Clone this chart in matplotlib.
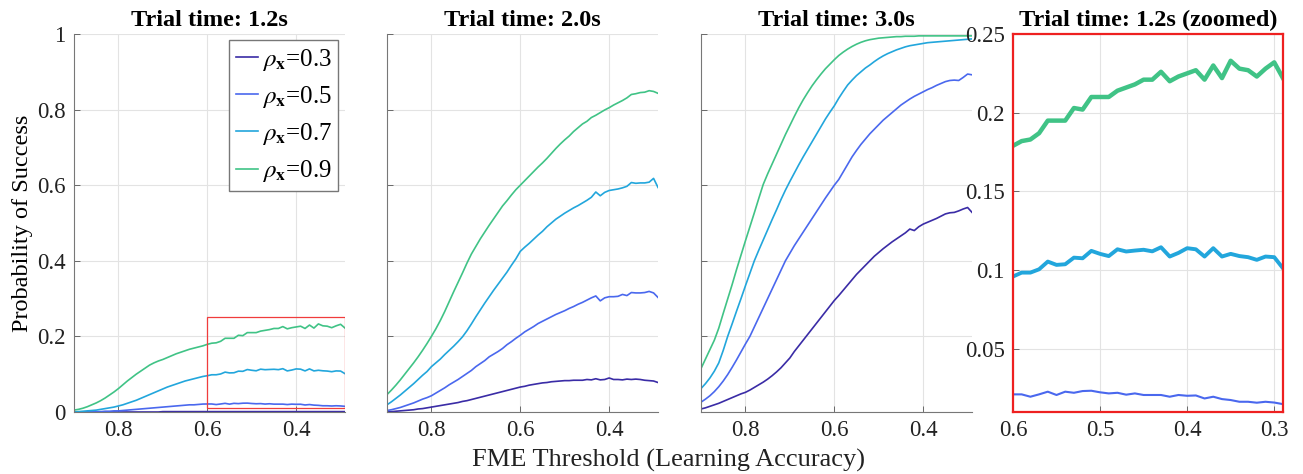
import numpy as np
import matplotlib
matplotlib.use("Agg")
import matplotlib.pyplot as plt
from matplotlib.patches import Rectangle
from matplotlib.ticker import FuncFormatter

plt.rcParams['font.family'] = ['Liberation Serif', 'DejaVu Serif']
plt.rcParams['mathtext.fontset'] = 'stix'

# FME threshold grid, 0.90 down to 0.29
thresholds = np.round(np.arange(90, 28, -1) / 100, 2)

rho_labels = [r'$\rho_{\mathbf{x}}$=0.3', r'$\rho_{\mathbf{x}}$=0.5',
              r'$\rho_{\mathbf{x}}$=0.7', r'$\rho_{\mathbf{x}}$=0.9']
colors = ['#3a2ca6', '#4a68ee', '#22a6dc', '#40c386']
titles = ['Trial time: 1.2s', 'Trial time: 2.0s', 'Trial time: 3.0s']

# ---- trial time 1.2 s ----
t12_rho03 = [0.0, 0.0, 0.0, 0.0, 0.0, 0.0, 0.0, 0.0, 0.0, 0.0,
             0.0, 0.0, 0.0, 0.0, 0.0, 0.0, 0.0, 0.0, 0.0, 0.0,
             0.001, 0.001, 0.001, 0.001, 0.001, 0.001, 0.001, 0.001, 0.001, 0.001,
             0.001, 0.001, 0.001, 0.001, 0.001, 0.001, 0.001, 0.001, 0.001, 0.001,
             0.001, 0.001, 0.001, 0.001, 0.001, 0.001, 0.001, 0.001, 0.001, 0.001,
             0.001, 0.001, 0.001, 0.001, 0.001, 0.001, 0.001, 0.001, 0.001, 0.001,
             0.001, 0.001]
t12_rho05 = [0.0, 0.0, 0.0, 0.0, 0.001, 0.001, 0.001, 0.002, 0.002, 0.003,
             0.003, 0.004, 0.005, 0.006, 0.007, 0.008, 0.009, 0.01, 0.011, 0.012,
             0.013, 0.014, 0.015, 0.016, 0.017, 0.018, 0.019, 0.019, 0.02, 0.021,
             0.0212, 0.0212, 0.0197, 0.0212, 0.0229, 0.0208, 0.0229, 0.0222, 0.0233, 0.0235,
             0.0225, 0.0218, 0.0222, 0.021, 0.0218, 0.0208, 0.0208, 0.0208, 0.0197, 0.0208,
             0.0203, 0.0205, 0.0186, 0.0197, 0.0182, 0.0176, 0.0165, 0.0165, 0.0159, 0.0165,
             0.016, 0.015]
t12_rho07 = [0.0, 0.001, 0.002, 0.003, 0.004, 0.005, 0.007, 0.009, 0.011, 0.013,
             0.016, 0.019, 0.023, 0.027, 0.031, 0.036, 0.041, 0.046, 0.051, 0.056,
             0.061, 0.066, 0.07, 0.074, 0.078, 0.082, 0.085, 0.088, 0.091, 0.094,
             0.096, 0.0985, 0.0985, 0.1006, 0.1055, 0.1034, 0.1038, 0.108, 0.1076, 0.1123,
             0.1104, 0.109, 0.1133, 0.1119, 0.1125, 0.113, 0.112, 0.1146, 0.1087, 0.111,
             0.114, 0.1133, 0.1087, 0.114, 0.1087, 0.1104, 0.109, 0.1083, 0.1066, 0.1087,
             0.1083, 0.1013]
t12_rho09 = [0.005, 0.007, 0.01, 0.014, 0.019, 0.024, 0.03, 0.037, 0.045, 0.053,
             0.062, 0.072, 0.082, 0.091, 0.1, 0.108, 0.116, 0.124, 0.13, 0.135,
             0.139, 0.144, 0.149, 0.154, 0.158, 0.162, 0.166, 0.169, 0.172, 0.175,
             0.179, 0.182, 0.183, 0.187, 0.195, 0.195, 0.195, 0.203, 0.202, 0.21,
             0.21, 0.21, 0.214, 0.216, 0.218, 0.221, 0.221, 0.226, 0.22, 0.223,
             0.225, 0.227, 0.221, 0.23, 0.222, 0.233, 0.228, 0.227, 0.223, 0.228,
             0.232, 0.222]

# ---- trial time 2.0 s ----
t20_rho03 = [0.0, 0.001, 0.002, 0.003, 0.004, 0.005, 0.006, 0.008, 0.009, 0.011,
             0.013, 0.015, 0.017, 0.019, 0.021, 0.023, 0.025, 0.028, 0.03, 0.033,
             0.036, 0.039, 0.042, 0.045, 0.048, 0.051, 0.054, 0.057, 0.06, 0.063,
             0.066, 0.068, 0.071, 0.073, 0.075, 0.077, 0.078, 0.08, 0.081, 0.082,
             0.083, 0.083, 0.084, 0.084, 0.084, 0.086, 0.085, 0.088, 0.085, 0.086,
             0.09, 0.086, 0.086, 0.085, 0.087, 0.086, 0.087, 0.086, 0.084, 0.083,
             0.082, 0.078]
t20_rho05 = [0.004, 0.006, 0.009, 0.012, 0.016, 0.02, 0.024, 0.029, 0.034, 0.038,
             0.043, 0.05, 0.057, 0.064, 0.072, 0.079, 0.086, 0.094, 0.102, 0.11,
             0.12, 0.128, 0.136, 0.146, 0.153, 0.16, 0.168, 0.178, 0.186, 0.195,
             0.203, 0.212, 0.219, 0.226, 0.234, 0.24, 0.246, 0.252, 0.258, 0.263,
             0.268, 0.274, 0.279, 0.285, 0.29, 0.296, 0.302, 0.307, 0.294, 0.302,
             0.305, 0.305, 0.306, 0.311, 0.308, 0.316, 0.315, 0.315, 0.316, 0.319,
             0.315, 0.303]
t20_rho07 = [0.019, 0.027, 0.036, 0.045, 0.055, 0.065, 0.075, 0.086, 0.097, 0.107,
             0.12, 0.13, 0.14, 0.152, 0.163, 0.174, 0.186, 0.199, 0.215, 0.233,
             0.252, 0.27, 0.288, 0.305, 0.322, 0.338, 0.354, 0.37, 0.388, 0.405,
             0.425, 0.436, 0.446, 0.457, 0.468, 0.478, 0.49, 0.5, 0.51, 0.518,
             0.526, 0.533, 0.54, 0.546, 0.553, 0.56, 0.568, 0.582, 0.572, 0.581,
             0.586, 0.588, 0.59, 0.593, 0.597, 0.607, 0.605, 0.606, 0.606, 0.608,
             0.618, 0.594]
t20_rho09 = [0.046, 0.058, 0.071, 0.085, 0.1, 0.115, 0.13, 0.146, 0.163, 0.181,
             0.2, 0.22, 0.242, 0.266, 0.292, 0.318, 0.343, 0.368, 0.394, 0.418,
             0.438, 0.458, 0.476, 0.494, 0.511, 0.528, 0.545, 0.559, 0.574, 0.588,
             0.6, 0.612, 0.624, 0.636, 0.648, 0.659, 0.671, 0.684, 0.697, 0.709,
             0.72, 0.73, 0.742, 0.752, 0.762, 0.769, 0.779, 0.785, 0.792, 0.799,
             0.805, 0.812, 0.818, 0.824, 0.831, 0.84, 0.842, 0.845, 0.846, 0.85,
             0.848, 0.843]

# ---- trial time 3.0 s ----
t30_rho03 = [0.008, 0.011, 0.015, 0.019, 0.023, 0.028, 0.033, 0.038, 0.043, 0.048,
             0.052, 0.058, 0.065, 0.072, 0.079, 0.087, 0.096, 0.106, 0.117, 0.13,
             0.143, 0.16, 0.175, 0.19, 0.205, 0.22, 0.235, 0.25, 0.265, 0.28,
             0.295, 0.308, 0.322, 0.336, 0.35, 0.364, 0.376, 0.388, 0.4, 0.412,
             0.422, 0.432, 0.441, 0.45, 0.458, 0.466, 0.474, 0.484, 0.48, 0.49,
             0.497, 0.502, 0.507, 0.512, 0.518, 0.524, 0.527, 0.528, 0.532, 0.537,
             0.541, 0.528]
t30_rho05 = [0.026, 0.034, 0.043, 0.054, 0.067, 0.082, 0.099, 0.118, 0.138, 0.159,
             0.18, 0.2, 0.225, 0.25, 0.275, 0.3, 0.325, 0.35, 0.375, 0.4,
             0.42, 0.44, 0.458, 0.476, 0.494, 0.512, 0.53, 0.548, 0.566, 0.583,
             0.6, 0.615, 0.635, 0.655, 0.675, 0.692, 0.708, 0.722, 0.736, 0.748,
             0.76, 0.772, 0.782, 0.792, 0.802, 0.812, 0.82, 0.828, 0.835, 0.841,
             0.847, 0.853, 0.858, 0.864, 0.869, 0.874, 0.877, 0.878, 0.877, 0.885,
             0.894, 0.892]
t30_rho07 = [0.062, 0.075, 0.09, 0.108, 0.13, 0.163, 0.2, 0.233, 0.267, 0.3,
             0.334, 0.367, 0.4, 0.428, 0.455, 0.482, 0.509, 0.535, 0.562, 0.587,
             0.61, 0.632, 0.654, 0.675, 0.695, 0.715, 0.735, 0.755, 0.775, 0.793,
             0.81, 0.83, 0.848, 0.865, 0.878, 0.89, 0.9, 0.91, 0.918, 0.927,
             0.935, 0.942, 0.948, 0.953, 0.958, 0.962, 0.966, 0.969, 0.971, 0.973,
             0.975, 0.977, 0.978, 0.979, 0.98, 0.981, 0.982, 0.983, 0.984, 0.985,
             0.986, 0.987]
t30_rho09 = [0.115, 0.14, 0.165, 0.19, 0.222, 0.261, 0.299, 0.337, 0.377, 0.415,
             0.453, 0.49, 0.527, 0.565, 0.602, 0.63, 0.656, 0.682, 0.708, 0.734,
             0.758, 0.782, 0.805, 0.826, 0.845, 0.863, 0.879, 0.894, 0.908, 0.92,
             0.932, 0.943, 0.952, 0.96, 0.967, 0.973, 0.978, 0.982, 0.985, 0.987,
             0.989, 0.99, 0.991, 0.992, 0.993, 0.993, 0.994, 0.994, 0.994, 0.995,
             0.995, 0.995, 0.995, 0.995, 0.995, 0.995, 0.995, 0.995, 0.995, 0.995,
             0.995, 0.995]

panels = [
    [t12_rho03, t12_rho05, t12_rho07, t12_rho09],
    [t20_rho03, t20_rho05, t20_rho07, t20_rho09],
    [t30_rho03, t30_rho05, t30_rho07, t30_rho09],
]

fmt_g = FuncFormatter(lambda v, p: f"{v:g}")


def style_axes(ax):
    ax.grid(True, color='#e3e3e3', linewidth=0.8)
    ax.set_axisbelow(True)
    ax.tick_params(direction='in', length=4, width=0.6, color='#555555',
                   labelsize=16.5, labelcolor='#222222', pad=6)
    for side in ['top', 'right']:
        ax.spines[side].set_visible(False)
    for side in ['left', 'bottom']:
        ax.spines[side].set_color('#777777')
        ax.spines[side].set_linewidth(0.8)


fig = plt.figure(figsize=(13.03, 4.74), dpi=100)
lefts = [0.0568, 0.297, 0.538]
axes = []
for i, series in enumerate(panels):
    ax = fig.add_axes([lefts[i], 0.1308, 0.208, 0.7975])
    style_axes(ax)
    for s, c, lab in zip(series, colors, rho_labels):
        ax.plot(thresholds, s, color=c, linewidth=1.2, label=lab)
    ax.set_xlim(0.9, 0.29)
    ax.set_ylim(0, 1)
    ax.set_xticks([0.8, 0.6, 0.4])
    ax.set_yticks([0, 0.2, 0.4, 0.6, 0.8, 1.0])
    ax.xaxis.set_major_formatter(fmt_g)
    ax.yaxis.set_major_formatter(fmt_g)
    if i > 0:
        ax.set_yticklabels([])
    ax.set_title(titles[i], fontsize=17.5, fontweight='bold', pad=6)
    axes.append(ax)

ax1 = axes[0]
ax1.set_ylabel('Probability of Success', fontsize=17.5, labelpad=3)
ax1.legend(loc='upper right', bbox_to_anchor=(0.975, 0.983), fontsize=18,
           frameon=True, fancybox=False, edgecolor='#777777', framealpha=1,
           handlelength=0.9, handletextpad=0.15, labelspacing=0.45,
           borderpad=0.25, borderaxespad=0)
ax1.add_patch(Rectangle((0.6, 0.01), 0.29 - 0.6, 0.25 - 0.01, fill=False,
                        edgecolor='#f03c3c', linewidth=0.9, zorder=5))

# zoomed panel of the 1.2 s case
ax4 = fig.add_axes([0.7774, 0.1308, 0.2072, 0.7975])
style_axes(ax4)
zoom_widths = [1.2, 1.5, 2.8, 3.2]
for s, c, w in zip(panels[0], colors, zoom_widths):
    ax4.plot(thresholds, s, color=c, linewidth=w)
ax4.set_xlim(0.6, 0.29)
ax4.set_ylim(0.01, 0.25)
ax4.set_xticks([0.6, 0.5, 0.4, 0.3])
ax4.set_yticks([0.05, 0.1, 0.15, 0.2, 0.25])
ax4.xaxis.set_major_formatter(fmt_g)
ax4.yaxis.set_major_formatter(fmt_g)
for side in ['top', 'right', 'left', 'bottom']:
    ax4.spines[side].set_visible(True)
    ax4.spines[side].set_color('#ee2020')
    ax4.spines[side].set_linewidth(1.6)
ax4.set_title('Trial time: 1.2s (zoomed)', fontsize=17.5, fontweight='bold', pad=6)

fig.text(0.513, 0.004, 'FME Threshold (Learning Accuracy)', ha='center',
         va='bottom', fontsize=19, color='#222222')

fig.savefig('out.png', dpi=100)
